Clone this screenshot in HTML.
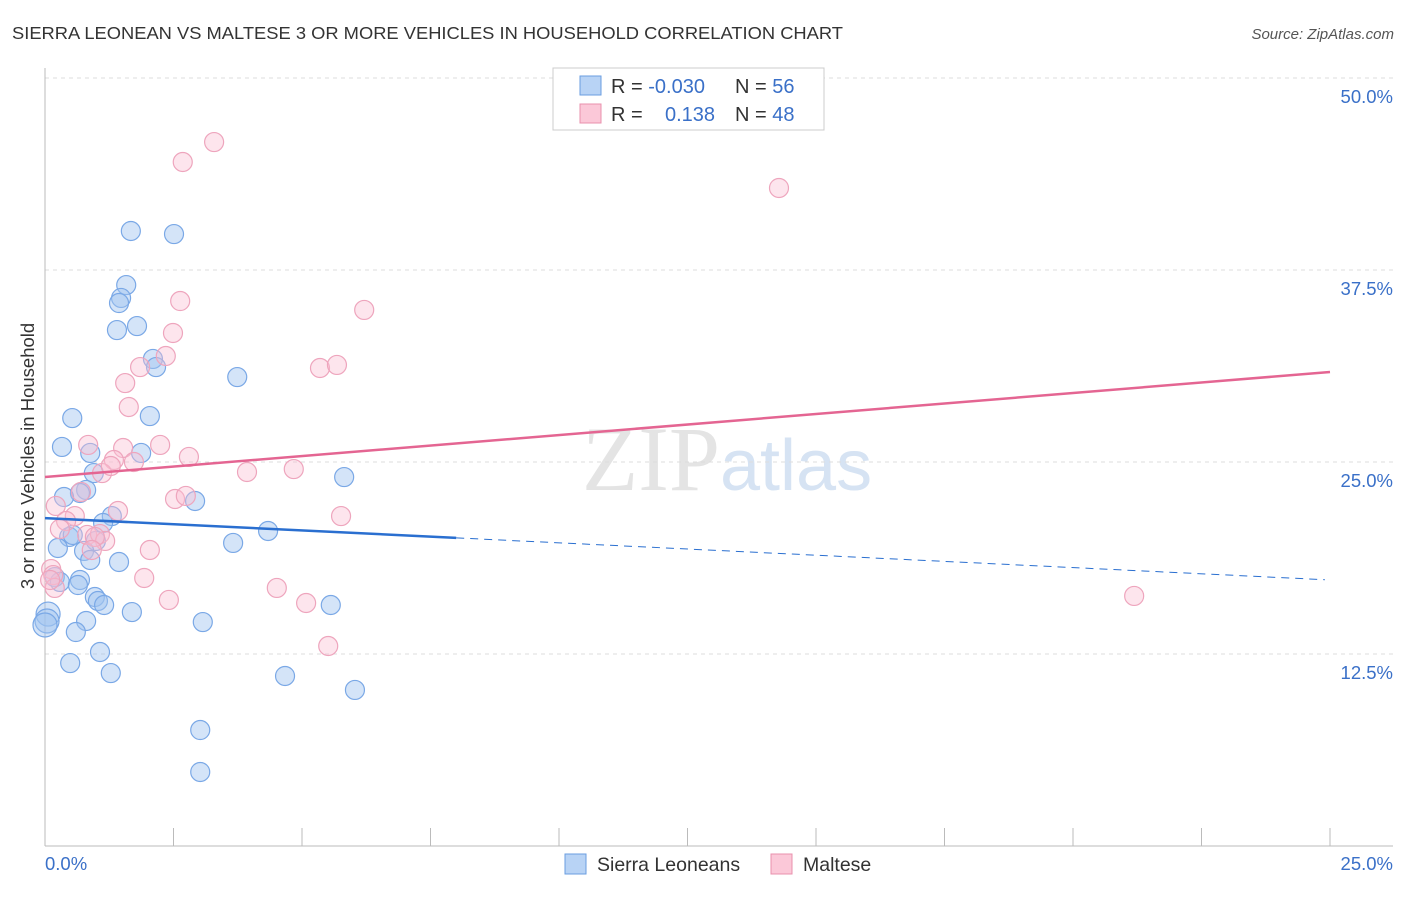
<!DOCTYPE html>
<html><head><meta charset="utf-8"><style>
body{margin:0;background:#fff;font-family:"Liberation Sans",sans-serif}
</style></head><body>
<svg width="1406" height="892" xmlns="http://www.w3.org/2000/svg" font-family="Liberation Sans, sans-serif">
<text x="12" y="39" font-size="17.5" fill="#333" textLength="831" lengthAdjust="spacingAndGlyphs">SIERRA LEONEAN VS MALTESE 3 OR MORE VEHICLES IN HOUSEHOLD CORRELATION CHART</text>
<text x="1394" y="39" font-size="15" fill="#555" font-style="italic" text-anchor="end">Source: ZipAtlas.com</text>
<text x="720" y="490" font-size="92" fill="#e4e4e4" text-anchor="end" font-family="Liberation Serif, serif">ZIP</text>
<text x="720" y="490" font-size="72" fill="#d6e3f3">atlas</text>
<g id="grid"></g>
<g id="axes"></g>
<g id="marks"></g>
<text x="34" y="456" font-size="18.5" fill="#333" text-anchor="middle" transform="rotate(-90 34 456)">3 or more Vehicles in Household</text>
<g>
<rect x="553" y="68" width="271" height="62" fill="#fff" stroke="#ccc"/>
<rect x="580" y="76" width="21" height="19" fill="#b8d3f5" stroke="#6a9ee0"/>
<rect x="580" y="104" width="21" height="19" fill="#fbc8d8" stroke="#e890ad"/>
<text x="611" y="93" font-size="20" fill="#333">R = <tspan fill="#3a70c8">-0.030</tspan></text>
<text x="735" y="93" font-size="20" fill="#333">N = <tspan fill="#3a70c8">56</tspan></text>
<text x="611" y="121" font-size="20" fill="#333">R = <tspan fill="#3a70c8" x="665">0.138</tspan></text>
<text x="735" y="121" font-size="20" fill="#333">N = <tspan fill="#3a70c8">48</tspan></text>
</g>
<g>
<rect x="565" y="854" width="21" height="20" fill="#b8d3f5" stroke="#6a9ee0"/>
<text x="597" y="871" font-size="19.5" fill="#333">Sierra Leoneans</text>
<rect x="771" y="854" width="21" height="20" fill="#fbc8d8" stroke="#e890ad"/>
<text x="803" y="871" font-size="19.5" fill="#333">Maltese</text>
</g>
</svg>
<script>
const blueX=[1.67,2.51,1.58,1.48,1.44,1.40,1.79,2.10,2.16,3.74,2.04,0.53,0.33,0.88,1.87,0.95,5.82,0.80,0.68,0.37,2.92,1.30,1.13,4.34,0.47,0.99,0.54,3.66,0.25,0.76,0.88,1.44,0.19,0.68,0.29,0.64,0.97,1.03,1.15,5.56,1.69,0.06,0.04,0.80,3.07,0.60,1.07,0.49,1.28,4.67,6.03,3.02,3.02,0.0];
const blueY=[40.04,39.84,36.52,35.68,35.35,33.59,33.85,31.71,31.18,30.53,27.99,27.86,25.98,25.59,25.59,24.28,24.02,23.18,22.98,22.72,22.46,21.48,21.03,20.51,20.12,19.86,20.25,19.73,19.40,19.21,18.62,18.49,17.51,17.32,17.19,16.99,16.21,15.95,15.69,15.69,15.23,15.10,14.65,14.65,14.58,13.93,12.63,11.91,11.26,11.07,10.16,7.55,4.82,14.39];
const pinkX=[3.29,2.68,14.28,2.63,6.21,2.49,2.35,1.85,5.35,5.68,1.56,1.63,0.84,2.24,1.52,1.34,1.73,2.80,1.11,1.28,3.93,4.84,0.70,2.53,2.74,0.21,1.42,0.58,0.41,5.76,0.29,0.82,1.07,1.17,0.97,2.04,0.91,0.12,0.16,1.93,0.19,4.51,2.41,5.08,5.51,21.19,0.10];
const pinkY=[45.83,44.53,42.84,35.48,34.90,33.40,31.90,31.18,31.12,31.32,30.14,28.58,26.11,26.11,25.91,25.13,25.00,25.33,24.28,24.74,24.35,24.54,23.05,22.59,22.79,22.14,21.81,21.48,21.16,21.48,20.64,20.25,20.31,19.86,20.12,19.27,19.27,18.03,17.64,17.45,16.80,16.80,16.02,15.82,13.02,16.28,17.32];
const yTicks=[12.5,25,37.5,50];
const yTickLabels=["12.5%","25.0%","37.5%","50.0%"];
const xTickLabels=["0.0%","25.0%"];
const blueTrend=[21.35,17.32]; const blueSolidEnd=8.0;
const pinkTrend=[24.02,30.86];
const NS="http://www.w3.org/2000/svg";
const sx=v=>45+v/25*1285, sy=v=>846-v/50*768;
function mk(p,t,a){const e=document.createElementNS(NS,t);for(const k in a)e.setAttribute(k,a[k]);p.appendChild(e);return e;}
const grid=document.getElementById('grid'),axes=document.getElementById('axes'),marks=document.getElementById('marks');
yTicks.forEach((t,i)=>{
 const l=mk(grid,'line',{x1:45,x2:1393,y1:sy(t),y2:sy(t),stroke:'#ddd','stroke-dasharray':'4 4'});
 
 
 const tx=mk(axes,'text',{x:1393,y:sy(t)+25,'font-size':18.5,fill:'#3a70c8','text-anchor':'end'});
 tx.textContent=yTickLabels[i];
 
 
});
mk(axes,'line',{x1:45,x2:45,y1:68,y2:846,stroke:'#bbb'});
mk(axes,'line',{x1:45,x2:1393,y1:846,y2:846,stroke:'#bbb'});
for(let i=0;i<=10;i++){const x=sx(i*2.5);const t=mk(axes,'line',{x1:x,x2:x,y1:828,y2:846,stroke:'#bbb'});
 
 }
const xl0=mk(axes,'text',{x:45,y:870,'font-size':18.5,fill:'#3a70c8'});xl0.textContent=xTickLabels[0];


const xl1=mk(axes,'text',{x:1393,y:870,'font-size':18.5,fill:'#3a70c8','text-anchor':'end'});xl1.textContent=xTickLabels[1];


blueX.forEach((v,i)=>{const c=mk(marks,'circle',{cx:sx(v),cy:sy(blueY[i]),r:v<0.1?12:9.5,fill:'rgba(160,195,240,0.45)',stroke:'#7aa8e6','stroke-width':1.2});
 
 });
pinkX.forEach((v,i)=>{const c=mk(marks,'circle',{cx:sx(v),cy:sy(pinkY[i]),r:9.5,fill:'rgba(250,190,210,0.4)',stroke:'#eea5bd','stroke-width':1.2});
 
 });
const bAt=x=>blueTrend[0]+(blueTrend[1]-blueTrend[0])*x/25;
let l=mk(marks,'line',{x1:sx(0),y1:sy(bAt(0)),x2:sx(blueSolidEnd),y2:sy(bAt(blueSolidEnd)),stroke:'#2a6fd0','stroke-width':2.5});


l=mk(marks,'line',{x1:sx(blueSolidEnd),y1:sy(bAt(blueSolidEnd)),x2:sx(24.9),y2:sy(bAt(24.9)),stroke:'#2a6fd0','stroke-width':1,'stroke-dasharray':'8 6'});


l=mk(marks,'line',{x1:sx(0),y1:sy(pinkTrend[0]),x2:sx(25),y2:sy(pinkTrend[1]),stroke:'#e46592','stroke-width':2.5});


</script>
</body></html>
